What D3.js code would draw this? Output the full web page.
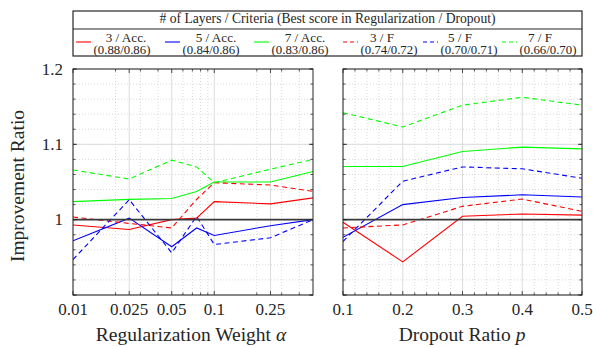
<!DOCTYPE html>
<html><head><meta charset="utf-8">
<script src="https://cdn.jsdelivr.net/npm/d3@7"></script>
<style>
html,body{margin:0;padding:0;background:#fff;}
svg{display:block;}
</style></head>
<body><svg id="c" width="593" height="347"></svg>
<script>
// ---- data ----
const alphaVals = [0.01, 0.025, 0.05, 0.075, 0.1, 0.25, 0.5];
const dropVals  = [0.1, 0.2, 0.3, 0.4, 0.5];
const alphaTickVals = [0.01, 0.025, 0.05, 0.1, 0.25];
const alphaTickLabels = ["0.01", "0.025", "0.05", "0.1", "0.25"];
const dropTickVals = [0.1, 0.2, 0.3, 0.4, 0.5];
const dropTickLabels = ["0.1", "0.2", "0.3", "0.4", "0.5"];
const yTickVals = [1.0, 1.1, 1.2];
const yTickLabels = ["1", "1.1", "1.2"];

const seriesNames  = ["3 / Acc.", "5 / Acc.", "7 / Acc.", "3 / F", "5 / F", "7 / F"];
const seriesScores = ["(0.88/0.86)", "(0.84/0.86)", "(0.83/0.86)", "(0.74/0.72)", "(0.70/0.71)", "(0.66/0.70)"];
const seriesColors = ["#ff0000", "#0000ff", "#00ff00", "#ff0000", "#0000ff", "#00ff00"];
const seriesDashed = [false, false, false, true, true, true];

const reg3Acc = [0.993, 0.987, 1.000, 1.002, 1.024, 1.021, 1.029];
const reg5Acc = [0.972, 1.002, 0.964, 0.989, 0.979, 0.992, 1.000];
const reg7Acc = [1.024, 1.027, 1.028, 1.0375, 1.050, 1.050, 1.064];
const reg3F   = [1.0035, 0.995, 0.989, 1.027, 1.049, 1.046, 1.0375];
const reg5F   = [0.947, 1.0265, 0.956, 1.0045, 0.967, 0.976, 1.000];
const reg7F   = [1.066, 1.054, 1.079, 1.070, 1.049, 1.067, 1.080];

const drop3Acc = [0.9965, 0.944, 1.0045, 1.0075, 1.006];
const drop5Acc = [0.9766, 1.020, 1.0295, 1.033, 1.030];
const drop7Acc = [1.0706, 1.0706, 1.0905, 1.0963, 1.094];
const drop3F   = [0.989, 0.993, 1.0177, 1.0274, 1.011];
const drop5F   = [0.971, 1.051, 1.070, 1.0675, 1.055];
const drop7F   = [1.142, 1.123, 1.152, 1.1625, 1.152];

const regSeries  = [reg3Acc, reg5Acc, reg7Acc, reg3F, reg5F, reg7F];
const dropSeries = [drop3Acc, drop5Acc, drop7Acc, drop3F, drop5F, drop7F];

// ---- layout ----
const FONT = "Liberation Serif";
const INK = "#262626";
const svg = d3.select("#c");
const pTop = 69, pBottom = 295;
const y = d3.scaleLinear().domain([0.9, 1.2]).range([pBottom, pTop]);
const xL = d3.scaleLog().domain([0.01, 0.5]).range([73, 313]);
const xR = d3.scaleLinear().domain([0.1, 0.5]).range([343, 582]);

const yMinor = d3.range(0.9, 1.2001, 0.02).map(v => +v.toFixed(2));
const yMajor = [0.9, 1.0, 1.1, 1.2];

function txt(sel, size) {
  return sel.attr("font-family", FONT).attr("font-size", size).attr("fill", INK);
}

function panel(x, xMajor, xMinor, series, xVals, xTickVals, xTickLabels, showY, clipId) {
  const [x0, x1] = x.range();
  const g = svg.append("g");
  g.selectAll(null).data(xMinor).join("line")
    .attr("x1", d => x(d)).attr("x2", d => x(d)).attr("y1", pTop).attr("y2", pBottom)
    .attr("stroke", "#cfcfcf").attr("stroke-width", 0.8).attr("stroke-dasharray", "1,2");
  g.selectAll(null).data(yMinor).join("line")
    .attr("y1", d => y(d)).attr("y2", d => y(d)).attr("x1", x0).attr("x2", x1)
    .attr("stroke", "#cfcfcf").attr("stroke-width", 0.8).attr("stroke-dasharray", "1,2");
  g.selectAll(null).data(xMajor).join("line")
    .attr("x1", d => x(d)).attr("x2", d => x(d)).attr("y1", pTop).attr("y2", pBottom)
    .attr("stroke", "#dcdcdc").attr("stroke-width", 1);
  g.selectAll(null).data(yMajor).join("line")
    .attr("y1", d => y(d)).attr("y2", d => y(d)).attr("x1", x0).attr("x2", x1)
    .attr("stroke", "#dcdcdc").attr("stroke-width", 1);

  svg.append("clipPath").attr("id", clipId).append("rect")
    .attr("x", x0).attr("y", pTop).attr("width", x1 - x0).attr("height", pBottom - pTop);
  const lines = g.append("g").attr("clip-path", `url(#${clipId})`);
  const line = d3.line().x((d, i) => x(xVals[i])).y(d => y(d));
  series.forEach((s, k) => {
    lines.append("path").datum(s).attr("d", line)
      .attr("fill", "none").attr("stroke", seriesColors[k]).attr("stroke-width", 1.1)
      .attr("stroke-dasharray", seriesDashed[k] ? "5,3.5" : null);
  });
  lines.append("line").attr("x1", x0).attr("x2", x1).attr("y1", y(1)).attr("y2", y(1))
    .attr("stroke", "#3a3a3a").attr("stroke-width", 1.8);

  const tk = g.append("g").attr("stroke", INK).attr("stroke-width", 0.8);
  xMinor.forEach(v => {
    tk.append("line").attr("x1", x(v)).attr("x2", x(v)).attr("y1", pBottom).attr("y2", pBottom - 2.5);
    tk.append("line").attr("x1", x(v)).attr("x2", x(v)).attr("y1", pTop).attr("y2", pTop + 2.5);
  });
  xMajor.forEach(v => {
    tk.append("line").attr("x1", x(v)).attr("x2", x(v)).attr("y1", pBottom).attr("y2", pBottom - 4);
    tk.append("line").attr("x1", x(v)).attr("x2", x(v)).attr("y1", pTop).attr("y2", pTop + 4);
  });
  yMinor.forEach(v => {
    tk.append("line").attr("y1", y(v)).attr("y2", y(v)).attr("x1", x0).attr("x2", x0 + 2.5);
    tk.append("line").attr("y1", y(v)).attr("y2", y(v)).attr("x1", x1).attr("x2", x1 - 2.5);
  });
  yMajor.forEach(v => {
    tk.append("line").attr("y1", y(v)).attr("y2", y(v)).attr("x1", x0).attr("x2", x0 + 4);
    tk.append("line").attr("y1", y(v)).attr("y2", y(v)).attr("x1", x1).attr("x2", x1 - 4);
  });
  g.append("rect").attr("x", x0).attr("y", pTop).attr("width", x1 - x0).attr("height", pBottom - pTop)
    .attr("fill", "none").attr("stroke", INK).attr("stroke-width", 1);

  txt(g.selectAll(null).data(xTickVals).join("text"), 17)
    .attr("x", d => x(d)).attr("y", 315).attr("text-anchor", "middle")
    .text((d, i) => xTickLabels[i]);
  if (showY) {
    txt(g.selectAll(null).data(yTickVals).join("text"), 17)
      .attr("x", 63).attr("y", d => y(d) + 5.5).attr("text-anchor", "end")
      .text((d, i) => yTickLabels[i]);
  }
}

function draw() {
  svg.selectAll("*").remove();
  const leftMinor = [0.02,0.03,0.04,0.06,0.07,0.08,0.09,0.2,0.3,0.4];
  const rightMinor = d3.range(0.12, 0.5, 0.02).map(v => +v.toFixed(2)).filter(v => Math.abs(v*10 - Math.round(v*10)) > 1e-6);
  panel(xL, alphaTickVals, leftMinor, regSeries, alphaVals, alphaTickVals, alphaTickLabels, true, "clipL");
  panel(xR, dropTickVals, rightMinor, dropSeries, dropVals, dropTickVals, dropTickLabels, false, "clipR");

  const t1 = txt(svg.append("text"), 19.5).attr("x", 191).attr("y", 341).attr("text-anchor", "middle");
  t1.append("tspan").text("Regularization Weight ");
  t1.append("tspan").attr("font-style", "italic").text("α");
  const t2 = txt(svg.append("text"), 19.5).attr("x", 462).attr("y", 341).attr("text-anchor", "middle");
  t2.append("tspan").text("Dropout Ratio ");
  t2.append("tspan").attr("font-style", "italic").text("p");
  txt(svg.append("text"), 19.5).attr("transform", "translate(24,186) rotate(-90)").attr("text-anchor", "middle")
    .text("Improvement Ratio");

  const lg = svg.append("g");
  lg.append("rect").attr("x", 73).attr("y", 11).attr("width", 509).attr("height", 45)
    .attr("fill", "#fff").attr("stroke", INK).attr("stroke-width", 1.2);
  lg.append("line").attr("x1", 73).attr("x2", 582).attr("y1", 29).attr("y2", 29)
    .attr("stroke", INK).attr("stroke-width", 1.2);
  txt(lg.append("text"), 13.6).attr("x", 327.5).attr("y", 23).attr("text-anchor", "middle")
    .text("# of Layers / Criteria (Best score in Regularization / Dropout)");
  const colX = [76, 165, 254, 343, 423, 502];
  const row1Off = [50, 51, 51, 39, 37, 38];
  seriesNames.forEach((nm, k) => {
    const cx = colX[k];
    lg.append("line").attr("x1", cx).attr("x2", cx + 15).attr("y1", 42).attr("y2", 42)
      .attr("stroke", seriesColors[k]).attr("stroke-width", 1.1)
      .attr("stroke-dasharray", seriesDashed[k] ? "4,3" : null);
    txt(lg.append("text"), 13.2).attr("x", cx + row1Off[k]).attr("y", 41.5).attr("text-anchor", "middle").text(nm);
    txt(lg.append("text"), 12.8).attr("x", cx + 46).attr("y", 54).attr("text-anchor", "middle").text(seriesScores[k]);
  });
}

const ctx = document.createElement("canvas").getContext("2d");
ctx.font = "17px 'Liberation Serif'"; ctx.measureText("Regularization 0.025");
ctx.font = "italic 17px 'Liberation Serif'"; ctx.measureText("α p");
draw();
if (document.fonts && document.fonts.load) {
  Promise.all([
    document.fonts.load("17px 'Liberation Serif'"),
    document.fonts.load("italic 17px 'Liberation Serif'")
  ]).then(draw).catch(() => {});
  document.fonts.ready.then(draw);
}
</script></body></html>
